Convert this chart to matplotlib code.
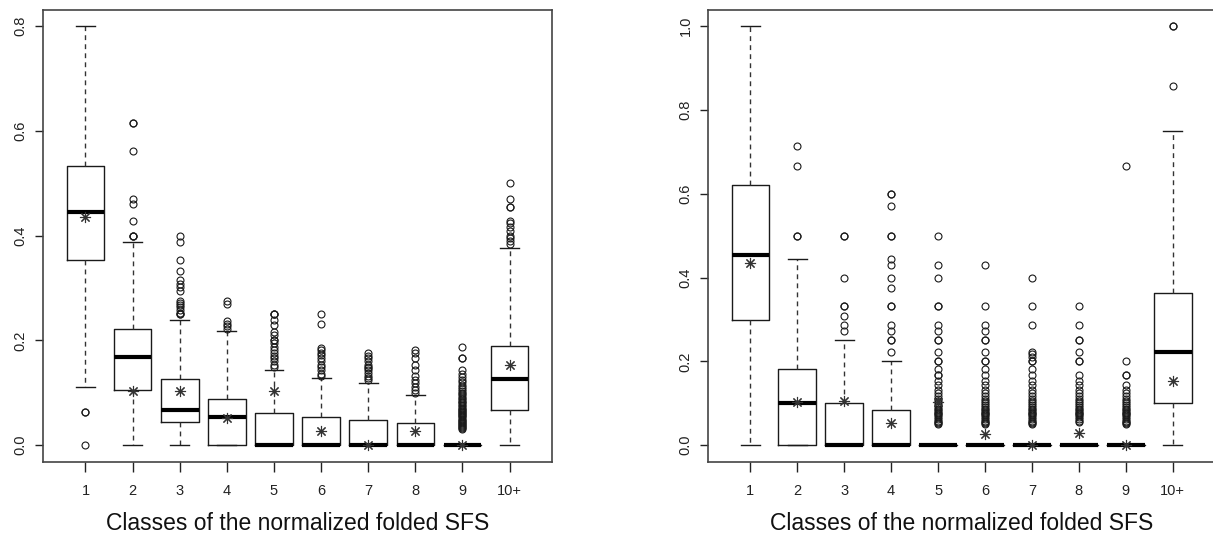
import matplotlib
matplotlib.use("Agg")
import matplotlib.pyplot as plt

plt.rcParams["font.family"] = ["Liberation Sans", "DejaVu Sans"]

classes = ["1", "2", "3", "4", "5", "6", "7", "8", "9", "10+"]
xlabel = "Classes of the normalized folded SFS"

# left panel
left_q1 = [0.354, 0.105, 0.044, 0.0, 0.0, 0.0, 0.0, 0.0, 0.0, 0.067]
left_med = [0.445, 0.168, 0.067, 0.054, 0.0, 0.0, 0.0, 0.0, 0.0, 0.126]
left_q3 = [0.534, 0.222, 0.126, 0.089, 0.061, 0.054, 0.049, 0.042, 0.0, 0.19]
left_lo = [0.112, 0.0, 0.0, 0.0, 0.0, 0.0, 0.0, 0.0, 0.0, 0.0]
left_hi = [0.8, 0.389, 0.24, 0.218, 0.143, 0.128, 0.118, 0.096, 0.0, 0.377]
left_mean = [0.435, 0.103, 0.103, 0.052, 0.103, 0.027, 0.0, 0.027, 0.0, 0.154]
left_fliers = [
    [0.0, 0.0625, 0.0625],
    [0.615, 0.615, 0.5625, 0.471, 0.4615, 0.4286, 0.40, 0.40, 0.40],
    [0.40, 0.389, 0.353, 0.333, 0.316, 0.308, 0.303, 0.294, 0.276, 0.272, 0.267,
     0.263, 0.258, 0.253, 0.25, 0.25],
    [0.275, 0.269, 0.237, 0.232, 0.227, 0.222],
    [0.25, 0.25, 0.25, 0.24, 0.23, 0.217, 0.211, 0.20, 0.20, 0.195, 0.188, 0.182,
     0.176, 0.17, 0.167, 0.16, 0.154, 0.15],
    [0.25, 0.231, 0.185, 0.182, 0.176, 0.172, 0.167, 0.16, 0.154, 0.15, 0.143,
     0.136, 0.133],
    [0.176, 0.171, 0.167, 0.16, 0.154, 0.15, 0.148, 0.143, 0.138, 0.133, 0.129,
     0.125],
    [0.182, 0.176, 0.167, 0.154, 0.143, 0.133, 0.125, 0.118, 0.111, 0.105, 0.10],
    [0.188, 0.167, 0.167, 0.143, 0.136, 0.13, 0.125, 0.12, 0.115, 0.111, 0.107,
     0.103, 0.1, 0.097, 0.094, 0.091, 0.088, 0.085, 0.083, 0.08, 0.077, 0.074,
     0.071, 0.069, 0.067, 0.065, 0.063, 0.061, 0.059, 0.057, 0.055, 0.053, 0.051,
     0.049, 0.047, 0.045, 0.043, 0.041, 0.039, 0.037, 0.035, 0.033, 0.031],
    [0.50, 0.471, 0.455, 0.455, 0.429, 0.425, 0.417, 0.41, 0.40, 0.395, 0.39,
     0.385],
]
left_yticks = [0.0, 0.2, 0.4, 0.6, 0.8]

# right panel
right_q1 = [0.3, 0.0, 0.0, 0.0, 0.0, 0.0, 0.0, 0.0, 0.0, 0.1]
right_med = [0.455, 0.1, 0.0, 0.0, 0.0, 0.0, 0.0, 0.0, 0.0, 0.222]
right_q3 = [0.621, 0.182, 0.1, 0.084, 0.0, 0.0, 0.0, 0.0, 0.0, 0.364]
right_lo = [0.0, 0.0, 0.0, 0.0, 0.0, 0.0, 0.0, 0.0, 0.0, 0.0]
right_hi = [1.0, 0.444, 0.25, 0.2, 0.0, 0.0, 0.0, 0.0, 0.0, 0.75]
right_mean = [0.435, 0.103, 0.105, 0.052, 0.103, 0.026, 0.0, 0.028, 0.0, 0.153]
right_fliers = [
    [],
    [0.714, 0.667, 0.5, 0.5],
    [0.5, 0.5, 0.4, 0.333, 0.333, 0.308, 0.286, 0.273],
    [0.6, 0.6, 0.571, 0.5, 0.5, 0.444, 0.429, 0.4, 0.375, 0.333, 0.333, 0.286,
     0.273, 0.25, 0.25, 0.222],
    [0.5, 0.429, 0.4, 0.333, 0.333, 0.286, 0.273, 0.25, 0.25, 0.222, 0.2, 0.2,
     0.182, 0.167, 0.167, 0.154, 0.143, 0.133, 0.125, 0.118, 0.111, 0.105, 0.1,
     0.095, 0.091, 0.087, 0.083, 0.08, 0.077, 0.074, 0.071, 0.067, 0.063, 0.059,
     0.056, 0.053, 0.05],
    [0.429, 0.333, 0.286, 0.273, 0.25, 0.25, 0.222, 0.2, 0.2, 0.182, 0.167,
     0.154, 0.143, 0.133, 0.125, 0.118, 0.111, 0.105, 0.1, 0.095, 0.091, 0.087,
     0.083, 0.08, 0.077, 0.074, 0.071, 0.067, 0.063, 0.059, 0.056, 0.053, 0.05],
    [0.4, 0.333, 0.286, 0.222, 0.217, 0.211, 0.2, 0.2, 0.182, 0.167, 0.154,
     0.143, 0.133, 0.125, 0.118, 0.111, 0.105, 0.1, 0.095, 0.091, 0.087, 0.083,
     0.08, 0.077, 0.074, 0.071, 0.067, 0.063, 0.059, 0.056, 0.053, 0.05],
    [0.333, 0.286, 0.25, 0.25, 0.222, 0.2, 0.2, 0.167, 0.154, 0.143, 0.133,
     0.125, 0.118, 0.111, 0.105, 0.1, 0.095, 0.091, 0.087, 0.083, 0.08, 0.077,
     0.074, 0.071, 0.067, 0.063, 0.059, 0.056],
    [0.667, 0.2, 0.167, 0.167, 0.143, 0.133, 0.125, 0.118, 0.111, 0.105, 0.1,
     0.095, 0.091, 0.087, 0.083, 0.08, 0.077, 0.074, 0.071, 0.067, 0.063, 0.059,
     0.056, 0.053, 0.05],
    [1.0, 1.0, 0.857],
]
right_yticks = [0.0, 0.2, 0.4, 0.6, 0.8, 1.0]


def build_stats(q1, med, q3, lo, hi, mean, fliers):
    return [
        dict(q1=a, med=b, q3=c, whislo=d, whishi=e, mean=f, fliers=g)
        for a, b, c, d, e, f, g in zip(q1, med, q3, lo, hi, mean, fliers)
    ]


def draw_panel(ax, stats, yticks, ylim):
    ink = "#1a1a1a"
    ax.bxp(
        stats,
        positions=range(1, len(stats) + 1),
        widths=0.8,
        capwidths=0.4,
        showmeans=True,
        boxprops=dict(color=ink, lw=1.0),
        medianprops=dict(color="black", lw=3.0, solid_capstyle="butt"),
        whiskerprops=dict(color="#333333", lw=1.0, linestyle=(0, (3.5, 3))),
        capprops=dict(color=ink, lw=1.0),
        flierprops=dict(marker="o", markerfacecolor="none", markeredgecolor=ink,
                        markersize=5, markeredgewidth=0.8),
        meanprops=dict(marker=(8, 2, 0), markerfacecolor=ink, markeredgecolor="#333333",
                       markersize=8, markeredgewidth=0.8),
    )
    ax.set_xlim(0.1, 10.9)
    ax.set_ylim(*ylim)
    ax.set_xticks(range(1, len(classes) + 1))
    ax.set_xticklabels(classes)
    ax.set_yticks(yticks)
    ax.set_yticklabels([f"{v:.1f}" for v in yticks], rotation=90, va="center")
    ax.tick_params(axis="x", length=7, width=1.0, pad=9, labelsize=10.5,
                   colors="#222222")
    ax.tick_params(axis="y", length=6, width=1.0, pad=5, labelsize=10.5,
                   colors="#222222")
    for sp in ax.spines.values():
        sp.set_color("#444444")
        sp.set_linewidth(1.2)
    ax.set_xlabel(xlabel, fontsize=16.5, color="#111111", labelpad=10)


fig = plt.figure(figsize=(12.13, 5.38), dpi=100)
ax_left = fig.add_axes([0.0355, 0.1413, 0.4196, 0.841])
ax_right = fig.add_axes([0.5837, 0.1413, 0.4180, 0.841])

draw_panel(ax_left,
           build_stats(left_q1, left_med, left_q3, left_lo, left_hi, left_mean, left_fliers),
           left_yticks, (-0.032, 0.832))
draw_panel(ax_right,
           build_stats(right_q1, right_med, right_q3, right_lo, right_hi, right_mean, right_fliers),
           right_yticks, (-0.04, 1.04))

fig.savefig("out.png", dpi=100, facecolor="white")
